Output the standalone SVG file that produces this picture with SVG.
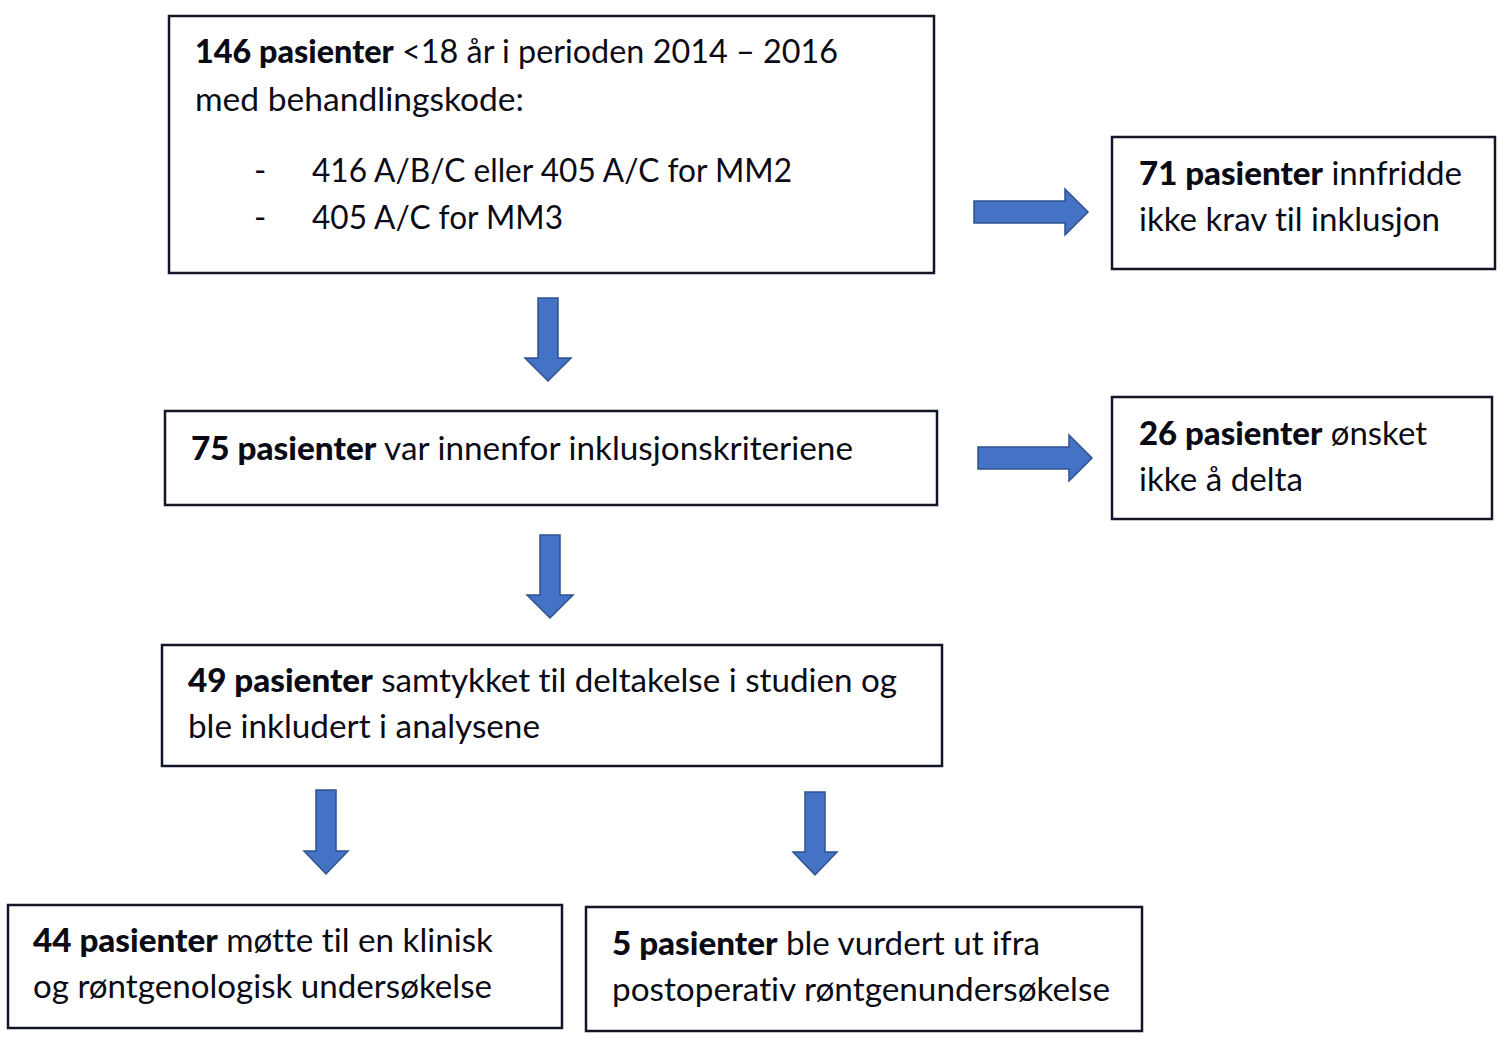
<svg xmlns="http://www.w3.org/2000/svg" width="1507" height="1051" viewBox="0 0 1507 1051">
<style>
.box{fill:#fff;stroke:#111526;stroke-width:2.5}
.t{font-family:Lato,"Open Sans","Liberation Sans",sans-serif;font-size:33px;fill:#0b0b16;font-variant-ligatures:none;font-feature-settings:"liga" 0,"clig" 0}
.b{font-weight:900}
.arr{fill:#4472C4;stroke:#2F528F;stroke-width:1.5}
</style>
<rect width="1507" height="1051" fill="#fff"/>
<g id="connectors">
<path class="arr" d="M538,298 H558 V358 H571 L548,381 L525,358 H538 Z"/>
<path class="arr" d="M540,535 H560 V595 H573 L550,618 L527,595 H540 Z"/>
<path class="arr" d="M316,790 H336 V851 H348 L326,874 L304,851 H316 Z"/>
<path class="arr" d="M805,792 H825 V852 H837 L815,875 L793,852 H805 Z"/>
<path class="arr" d="M974,201 H1065 V189 L1088,212 L1065,235 V223 H974 Z"/>
<path class="arr" d="M978,447 H1069 V435 L1092,458 L1069,481 V469 H978 Z"/>
</g>
<g id="n146">
<rect class="box" x="169" y="16" width="765" height="257"/>
<text class="t" x="195" y="63" textLength="643" lengthAdjust="spacingAndGlyphs"><tspan class="b">146 pasienter</tspan> &lt;18 år i perioden 2014 – 2016</text>
<text class="t" x="195" y="111" textLength="329" lengthAdjust="spacingAndGlyphs">med behandlingskode:</text>
<text class="t" x="254" y="182">-</text>
<text class="t" x="312" y="182" textLength="480" lengthAdjust="spacingAndGlyphs">416 A/B/C eller 405 A/C for MM2</text>
<text class="t" x="254" y="229">-</text>
<text class="t" x="312" y="229" textLength="251" lengthAdjust="spacingAndGlyphs">405 A/C for MM3</text>
</g>
<g id="n71">
<rect class="box" x="1112" y="137" width="383" height="132"/>
<text class="t" x="1139" y="185" textLength="323" lengthAdjust="spacingAndGlyphs"><tspan class="b">71 pasienter</tspan> innfridde</text>
<text class="t" x="1139" y="231" textLength="301" lengthAdjust="spacingAndGlyphs">ikke krav til inklusjon</text>
</g>
<g id="n75">
<rect class="box" x="165" y="411" width="772" height="94"/>
<text class="t" x="191" y="460" textLength="662" lengthAdjust="spacingAndGlyphs"><tspan class="b">75 pasienter</tspan> var innenfor inklusjonskriteriene</text>
</g>
<g id="n26">
<rect class="box" x="1112" y="397" width="380" height="122"/>
<text class="t" x="1139" y="445" textLength="288" lengthAdjust="spacingAndGlyphs"><tspan class="b">26 pasienter</tspan> ønsket</text>
<text class="t" x="1139" y="491" textLength="164" lengthAdjust="spacingAndGlyphs">ikke å delta</text>
</g>
<g id="n49">
<rect class="box" x="162" y="645" width="780" height="121"/>
<text class="t" x="188" y="692" textLength="709" lengthAdjust="spacingAndGlyphs"><tspan class="b">49 pasienter</tspan> samtykket til deltakelse i studien og</text>
<text class="t" x="188" y="738" textLength="352" lengthAdjust="spacingAndGlyphs">ble inkludert i analysene</text>
</g>
<g id="n44">
<rect class="box" x="8" y="905" width="554" height="123"/>
<text class="t" x="33" y="952" textLength="460" lengthAdjust="spacingAndGlyphs"><tspan class="b">44 pasienter</tspan> møtte til en klinisk</text>
<text class="t" x="33" y="998" textLength="459" lengthAdjust="spacingAndGlyphs">og røntgenologisk undersøkelse</text>
</g>
<g id="n5">
<rect class="box" x="586" y="907" width="556" height="124"/>
<text class="t" x="612" y="955" textLength="428" lengthAdjust="spacingAndGlyphs"><tspan class="b">5 pasienter</tspan> ble vurdert ut ifra</text>
<text class="t" x="612" y="1001" textLength="498" lengthAdjust="spacingAndGlyphs">postoperativ røntgenundersøkelse</text>
</g>
</svg>
